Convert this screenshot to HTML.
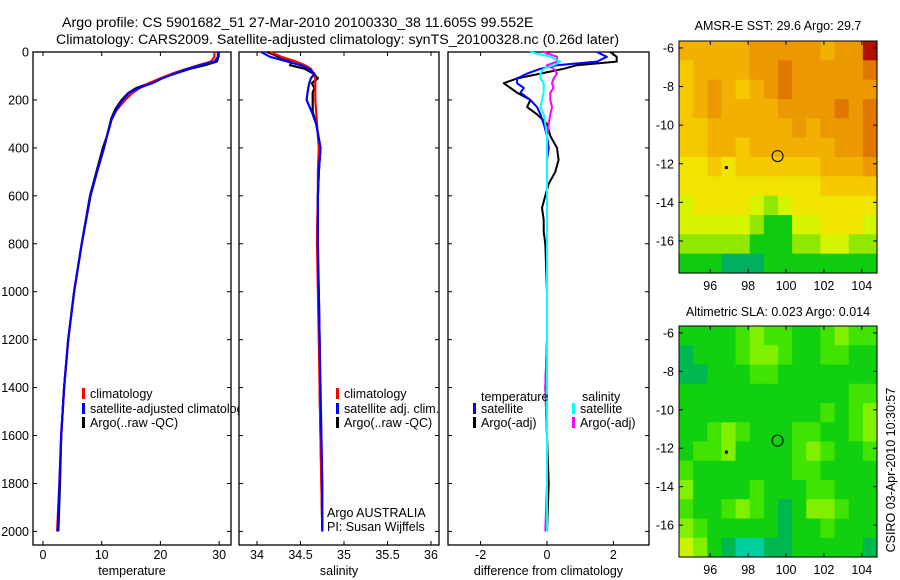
<!DOCTYPE html>
<html><head><meta charset="utf-8">
<style>
html,body{margin:0;padding:0;background:#fff;}
svg{display:block;font-family:"Liberation Sans",sans-serif;}
text{font-size:12.5px;fill:#000;}
</style></head>
<body>
<svg id="fig" width="900" height="580" viewBox="0 0 900 580" xmlns="http://www.w3.org/2000/svg">
<text x="62" y="27" style="font-size:14.2px">Argo profile: CS 5901682_51 27-Mar-2010 20100330_38 11.605S 99.552E</text>
<text x="56" y="44" style="font-size:14.2px">Climatology: CARS2009. Satellite-adjusted climatology: synTS_20100328.nc (0.26d later)</text>
<g id="g1"></g>
<g id="g2"></g>
<g id="g3"></g>
<g id="m1"></g>
<g id="m2"></g>
<text transform="translate(895,470) rotate(-90)" text-anchor="middle">CSIRO 03-Apr-2010 10:30:57</text>
</svg>
<script>
// ---- profile data ----
const tDepth = [0,20,40,55,70,90,110,130,150,170,200,240,280,350,400,500,600,800,1000,1200,1400,1600,1800,2000];
const tClim  = [29.2,29.2,28.6,26.5,24.5,22.0,20.0,18.0,16.5,15.3,14.0,12.6,11.7,10.9,10.4,9.2,8.1,6.6,5.3,4.3,3.6,3.1,2.8,2.4];
const tSat   = [29.8,29.8,29.2,26.8,24.6,22.4,20.3,18.6,16.3,14.7,13.6,12.5,11.7,10.9,10.4,9.2,8.1,6.6,5.3,4.3,3.6,3.1,2.8,2.5];
const tArgo  = [29.9,29.9,29.6,27.6,25.0,22.5,20.0,18.2,15.9,14.6,13.4,12.3,11.6,10.9,10.2,9.1,8.0,6.6,5.3,4.3,3.6,3.1,2.9,2.6];
const sDepth = [0,20,40,55,70,90,110,130,150,170,200,250,300,400,500,600,800,1000,1200,1400,1600,1800,2000];
const sClim  = [34.15,34.28,34.45,34.55,34.62,34.65,34.67,34.67,34.67,34.67,34.67,34.68,34.69,34.71,34.70,34.70,34.69,34.70,34.71,34.72,34.73,34.74,34.75];
const sSat   = [34.05,34.15,34.35,34.50,34.60,34.66,34.62,34.60,34.59,34.58,34.57,34.63,34.68,34.73,34.71,34.70,34.70,34.71,34.72,34.73,34.74,34.75,34.75];
const sArgo  = [34.12,34.25,34.40,34.38,34.55,34.65,34.70,34.63,34.66,34.64,34.64,34.64,34.68,34.73,34.71,34.70,34.69,34.71,34.72,34.72,34.73,34.74,34.75];
const dDepth = [0,20,40,55,70,90,110,130,150,170,200,230,260,300,350,400,450,500,550,600,650,700,750,800,1000,1200,1400,1600,1800,2000];
const dTSat  = [1.5,1.8,1.5,0.3,-0.2,-0.6,-0.9,-0.9,-0.7,-0.8,-0.5,-0.3,-0.2,-0.1,0,0.05,0,0,0,0,0,0,0,0,0,0,0,0,0,0];
const dTArgo = [1.9,2.1,2.1,0.9,0.5,-0.2,-0.9,-1.3,-1.1,-0.9,-0.5,-0.6,-0.3,0,0.1,0.3,0.35,0.25,0.05,-0.05,-0.15,-0.1,-0.1,-0.05,0,0,-0.05,0,0.05,0];
const dSSat  = [-0.5,0.1,0.4,0.2,-0.1,-0.2,-0.2,-0.1,-0.1,-0.1,-0.15,-0.2,-0.1,-0.05,0,0,0,0,0,0,0,0,0,0,0,0,0,0,0,0];
const dSArgo = [-0.1,0.3,0.3,0.0,0.2,0.3,0.2,0.15,0.2,0.1,0.1,0.15,0.1,0.05,0,0,0,0,0,0,0,0,0,0,0,0,-0.05,0,0,-0.05];
const tTicks = [0,10,20,30];
const sTicks = [34,34.5,35,35.5,36];
const dTicks = [-2,0,2];
const depthTicks = [0,200,400,600,800,1000,1200,1400,1600,1800,2000];

// ---- map data (rows: -6..-17 lat, cols: lon ~94.4..104.75) ----
const sstGrid = [
[6,6,6,6,6,7,7,7,7,7,6,7,7,9],
[5,6,6,6,6,7,7,8,7,7,7,7,7,8],
[5,6,7,6,5,6,7,8,7,7,7,7,7,7],
[5,6,7,6,6,6,6,7,7,7,7,8,7,8],
[5,5,6,6,6,6,6,6,7,6,7,7,7,8],
[5,5,6,6,5,6,6,6,6,6,6,7,7,8],
[4,4,5,4,5,5,5,5,5,5,6,6,6,7],
[4,4,4,4,4,4,4,4,4,4,5,5,5,5],
[3,4,4,4,4,3,2,3,4,4,4,4,4,4],
[3,3,3,3,3,2,1,1,3,3,4,4,4,3],
[2,2,2,2,2,1,1,1,2,2,3,3,2,2],
[1,1,1,0,0,0,1,1,1,1,1,1,1,1]];
const slaGrid = [
[1,1,1,1,2,3,2,2,1,1,2,3,2,2],
[0,1,1,1,2,3,3,2,1,1,2,2,1,1],
[0,0,1,1,1,2,2,1,1,1,1,1,1,1],
[1,1,1,1,1,1,1,1,1,1,1,1,2,2],
[1,1,1,1,1,1,1,1,1,1,2,1,2,3],
[1,1,2,3,2,1,1,1,2,2,1,1,2,3],
[1,2,2,3,1,1,1,1,2,3,2,1,1,2],
[2,1,1,1,1,1,1,1,2,2,1,1,1,1],
[3,1,1,1,1,2,1,1,1,2,2,1,1,1],
[2,1,1,2,3,2,1,0,1,3,3,2,1,1],
[3,2,1,1,1,1,1,0,1,1,2,1,1,1],
[4,3,1,0,5,5,0,0,1,1,1,1,1,0]];
const lonTicks = [96,98,100,102,104];
const latTicks = [-6,-8,-10,-12,-14,-16];
const floatLon = 99.552, floatLat = -11.605;

const NS="http://www.w3.org/2000/svg";
function mk(parent,tag,attrs,txt){const e=document.createElementNS(NS,tag);for(const k in attrs)e.setAttribute(k,attrs[k]);if(txt!==undefined)e.textContent=txt;parent.appendChild(e);return e;}

const yDepth = d => 52 + d*0.2397;
function panel(g,x0,x1,xs,ticks,xlabel,lbl,showDepth){
  const f=mk(g,'rect',{x:x0,y:52,width:x1-x0,height:493,fill:'#fff',stroke:'#000','stroke-width':1.3});
  
  
  ticks.forEach(t=>{
    const x=xs(t);
    mk(g,'line',{x1:x,y1:545,x2:x,y2:541,stroke:'#000'});
    mk(g,'line',{x1:x,y1:52,x2:x,y2:56,stroke:'#000'});
    const tl=mk(g,'text',{x:x,y:559,'text-anchor':'middle'},String(t));
    
    
  });
  depthTicks.forEach(d=>{
    const y=yDepth(d);
    mk(g,'line',{x1:x0,y1:y,x2:x0+4,y2:y,stroke:'#000'});
    mk(g,'line',{x1:x1,y1:y,x2:x1-4,y2:y,stroke:'#000'});
    if(showDepth){
      const tl=mk(g,'text',{x:x0-4,y:y+4.5,'text-anchor':'end'},String(d));
      
      
    }
  });
  const xl=mk(g,'text',{x:(x0+x1)/2,y:575,'text-anchor':'middle'},xlabel);
  
  
}
function series(g,depths,vals,xs,color,w,name){
  const pts=depths.map((d,i)=>xs(vals[i]).toFixed(1)+','+yDepth(d).toFixed(1)).join(' ');
  const p=mk(g,'polyline',{points:pts,fill:'none',stroke:color,'stroke-width':w,'stroke-linejoin':'round'});
  
  
}
function legend(g,x,y,color,label){
  mk(g,'rect',{x:x,y:y-9,width:3,height:11,fill:color});
  const t=mk(g,'text',{x:x+8,y:y+1},label);
  
  
}

// panel 1
const g1=document.getElementById('g1');
const xT=v=>43+v*5.87;
panel(g1,33,231,xT,tTicks,'temperature',true,true);
series(g1,tDepth,tArgo,xT,'#000',2.2,'temperature-argo-line');
series(g1,tDepth,tClim,xT,'#f00',2.2,'temperature-climatology-line');
series(g1,tDepth,tSat,xT,'#00f',2.2,'temperature-satellite-line');
legend(g1,82,397,'#f00','climatology');
legend(g1,82,412,'#00f','satellite-adjusted climatology');
legend(g1,82,426,'#000','Argo(..raw -QC)');

// panel 2
const g2=document.getElementById('g2');
const xS=v=>257+(v-34)*87;
panel(g2,239,439,xS,sTicks,'salinity',false,false);
series(g2,sDepth,sArgo,xS,'#000',2.2,'salinity-argo-line');
series(g2,sDepth,sClim,xS,'#f00',2.2,'salinity-climatology-line');
series(g2,sDepth,sSat,xS,'#00f',2.2,'salinity-satellite-line');
legend(g2,336,397,'#f00','climatology');
legend(g2,336,412,'#00f','satellite adj. clim.');
legend(g2,336,426,'#000','Argo(..raw -QC)');
mk(g2,'text',{x:327,y:517},'Argo AUSTRALIA');
mk(g2,'text',{x:327,y:531},'PI: Susan Wijffels');

// panel 3
const g3=document.getElementById('g3');
const xD=v=>547+v*33.2;
panel(g3,448,649,xD,dTicks,'difference from climatology',false,false);
series(g3,dDepth,dTArgo,xD,'#000',2,'temp-diff-argo-line');
series(g3,dDepth,dSArgo,xD,'#f0f',2,'sal-diff-argo-line');
series(g3,dDepth,dTSat,xD,'#00f',2,'temp-diff-satellite-line');
series(g3,dDepth,dSSat,xD,'#0ff',2,'sal-diff-satellite-line');
mk(g3,'text',{x:481,y:401},'temperature');
mk(g3,'text',{x:582,y:401},'salinity');
legend(g3,473,412,'#00f','satellite');
legend(g3,473,426,'#000','Argo(-adj)');
legend(g3,572,412,'#0ff','satellite');
legend(g3,572,426,'#f0f','Argo(-adj)');

// maps
const sstCols=['#00b060','#10cc10','#90e800','#d4f400','#f0e400','#f5c800','#f2b000','#ec9800','#e07800','#b01000'];
const slaCols=['#00b850','#10d010','#40e400','#80f000','#c8f400','#00d0a0'];
function map(g,top,bot,grid,cols,title,titleY,name){
  const L=679,R=877,lon0=94.35,lon1=104.8,lat0=-5.64,lat1=-17.66;
  const xl=v=>L+(v-lon0)/(lon1-lon0)*(R-L);
  const yl=v=>top+(v-lat0)/(lat1-lat0)*(bot-top);
  const nr=grid.length,nc=grid[0].length;
  grid.forEach((row,r)=>row.forEach((v,c)=>{
    const cell=mk(g,'rect',{x:L+c*(R-L)/nc,y:top+r*(bot-top)/nr,width:(R-L)/nc+0.6,height:(bot-top)/nr+0.6,fill:cols[v]});
    
    
  }));
  mk(g,'rect',{x:L,y:top,width:R-L,height:bot-top,fill:'none',stroke:'#000','stroke-width':1});
  lonTicks.forEach(t=>{
    const x=xl(t);
    mk(g,'line',{x1:x,y1:bot,x2:x,y2:bot-4,stroke:'#000'});
    mk(g,'line',{x1:x,y1:top,x2:x,y2:top+4,stroke:'#000'});
    const tl=mk(g,'text',{x:x,y:bot+17,'text-anchor':'middle'},String(t));
    
    
  });
  latTicks.forEach(t=>{
    const y=yl(t);
    mk(g,'line',{x1:L,y1:y,x2:L+4,y2:y,stroke:'#000'});
    mk(g,'line',{x1:R,y1:y,x2:R-4,y2:y,stroke:'#000'});
    const tl=mk(g,'text',{x:L-5,y:y+4.5,'text-anchor':'end'},String(t));
    
    
  });
  const c=mk(g,'circle',{cx:xl(floatLon),cy:yl(floatLat),r:5.5,fill:'none',stroke:'#000','stroke-width':1});
  
  
  mk(g,'rect',{x:xl(96.85)-1.5,y:yl(-12.2)-1.5,width:3,height:3,fill:'#000'});
  const t=mk(g,'text',{x:(L+R)/2,y:titleY,'text-anchor':'middle'},title);
  
  
}
map(document.getElementById('m1'),41,273,sstGrid,sstCols,'AMSR-E SST: 29.6 Argo: 29.7',30,'sst');
map(document.getElementById('m2'),326,557,slaGrid,slaCols,'Altimetric SLA: 0.023 Argo: 0.014',316,'sla');
</script>
</body></html>
